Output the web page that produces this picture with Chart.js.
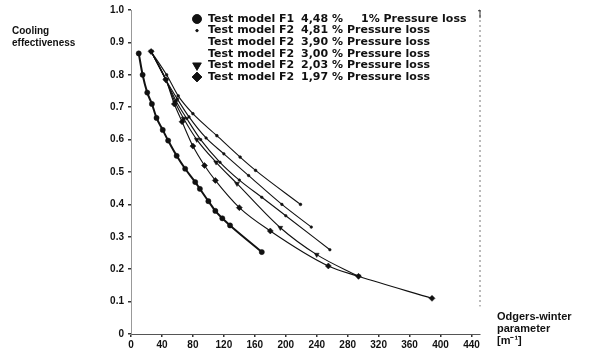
<!DOCTYPE html>
<html><head><meta charset="utf-8">
<script src="https://cdn.jsdelivr.net/npm/chart.js@4.4.0/dist/chart.umd.min.js"></script>
<style>html,body{margin:0;padding:0;background:#fff;}#wrap{width:593px;height:359px;position:relative}</style>
</head><body><div id="wrap"><canvas id="c" width="593" height="359"></canvas></div>
<script>
// ---- data ----
const xTickValues = [0,40,80,120,160,200,240,280,320,360,400,440];
const yTickValues = [0,0.1,0.2,0.3,0.4,0.5,0.6,0.7,0.8,0.9,1.0];

const f1X = [10,15,21,27,33,41,48,59,70,83,89,100,109,118,128,169];
const f1Y = [0.866,0.80,0.745,0.71,0.667,0.63,0.597,0.55,0.51,0.469,0.448,0.41,0.38,0.357,0.335,0.253];

const f2p481X = [26,46,61,80,111,141,161,219];
const f2p481Y = [0.872,0.80,0.735,0.68,0.612,0.546,0.505,0.40];

const f2p390X = [26,45,60,75,97,120,152,195,233];
const f2p390Y = [0.872,0.785,0.725,0.67,0.605,0.556,0.489,0.40,0.33];

const f2p300X = [26,45,58,72,90,115,140,169,200,257];
const f2p300Y = [0.872,0.785,0.72,0.665,0.60,0.53,0.475,0.422,0.365,0.26];

const f2p203X = [26,45,57,68,85,110,137,193,240,294];
const f2p203Y = [0.872,0.785,0.715,0.665,0.60,0.53,0.464,0.328,0.245,0.178];

const f2p197X = [26,45,56,66,80,95,109,140,180,255,294,389];
const f2p197Y = [0.872,0.785,0.71,0.655,0.58,0.52,0.474,0.39,0.318,0.21,0.178,0.11];

const legendModels = ['Test model F1','Test model F2','Test model F2','Test model F2','Test model F2','Test model F2'];
const legendPercents = ['4,48 %','4,81 %','3,90 %','3,00 %','2,03 %','1,97 %'];
const legendTails = ['1% Pressure loss','Pressure loss','Pressure loss','Pressure loss','Pressure loss','Pressure loss'];

const yTitle = ['Cooling','effectiveness'];
const xTitle = ['Odgers-winter','parameter','[m\u207B\u00B9]'];

// ---- build ----
const zip = (xs, ys) => xs.map((x, i) => ({x, y: ys[i]}));
const INK = '#111';
const series = [
  {xs:f1X, ys:f1Y, style:'circle', r:2.6, bw:2.0, legendR:4.5},
  {xs:f2p481X, ys:f2p481Y, style:'circle', r:1.4, bw:1.1, legendR:1.2},
  {xs:f2p390X, ys:f2p390Y, style:'circle', r:1.3, bw:1.1, legendR:0},
  {xs:f2p300X, ys:f2p300Y, style:'circle', r:1.3, bw:1.1, legendR:0},
  {xs:f2p203X, ys:f2p203Y, style:'triangle', r:2.8, bw:1.1, legendR:5, rot:180},
  {xs:f2p197X, ys:f2p197Y, style:'rectRot', r:3.0, bw:1.1, legendR:5}
];
const datasets = series.map((s, i) => ({
  label: legendModels[i] + ' ' + legendPercents[i] + ' ' + legendTails[i],
  data: zip(s.xs, s.ys),
  showLine: true,
  borderColor: INK,
  backgroundColor: INK,
  borderWidth: s.bw,
  pointStyle: s.style,
  pointRadius: s.r,
  pointRotation: s.rot || 0,
  pointBorderWidth: 0.5,
  cubicInterpolationMode: 'monotone'
}));

const FONT = '"Liberation Sans", Arial, sans-serif';
const LFONT = '"DejaVu Sans", sans-serif';

const decor = {
  id: 'decor',
  afterDraw(chart) {
    const ctx = chart.ctx;
    const xs = chart.scales.x, ys = chart.scales.y;
    ctx.save();
    // right dashed border
    const rx = xs.getPixelForValue(451);
    ctx.strokeStyle = '#777';
    ctx.lineWidth = 1;
    ctx.setLineDash([2, 3]);
    ctx.beginPath();
    ctx.moveTo(rx, ys.getPixelForValue(1.0));
    ctx.lineTo(rx, ys.getPixelForValue(0.085));
    ctx.stroke();
    ctx.setLineDash([]);
    ctx.strokeStyle = '#333';
    ctx.beginPath();
    ctx.moveTo(rx - 2, ys.getPixelForValue(1.0) + 1);
    ctx.lineTo(rx, ys.getPixelForValue(1.0));
    ctx.lineTo(rx, ys.getPixelForValue(0.975));
    ctx.stroke();

    // legend
    ctx.fillStyle = INK;
    ctx.font = 'bold 11px ' + LFONT;
    ctx.textBaseline = 'middle';
    ctx.textAlign = 'left';
    const y0 = 19, dy = 11.6;
    for (let i = 0; i < legendModels.length; i++) {
      const y = y0 + dy * i;
      const s = series[i];
      if (s.legendR > 0) {
        Chart.helpers.drawPoint(ctx, {pointStyle: s.style, radius: s.legendR, rotation: s.rot || 0, borderWidth: 0.5}, 197, y);
        ctx.fillStyle = INK; ctx.fill();
      }
      ctx.fillStyle = INK;
      ctx.fillText(legendModels[i], 208, y);
      ctx.fillText(legendPercents[i], 301, y);
      ctx.fillText(legendTails[i], i === 0 ? 361 : 347, y);
    }

    // axis titles
    ctx.font = 'bold 10px ' + FONT;
    ctx.fillText(yTitle[0], 12, 31);
    ctx.fillText(yTitle[1], 12, 43);
    ctx.font = 'bold 11px ' + FONT;
    ctx.fillText(xTitle[0], 497, 317);
    ctx.fillText(xTitle[1], 497, 329);
    ctx.fillText(xTitle[2], 497, 341);
    ctx.restore();
  }
};

new Chart(document.getElementById('c'), {
  type: 'scatter',
  data: { datasets },
  options: {
    responsive: false,
    animation: false,
    layout: { padding: { left: 0, right: 113, top: 9, bottom: 0 } },
    plugins: { legend: { display: false }, tooltip: { enabled: false } },
    scales: {
      x: {
        type: 'linear', min: 0, max: 451,
        afterFit(s) { s.height = 25; },
        afterBuildTicks(s) { s.ticks = xTickValues.map(v => ({value: v})); },
        ticks: { color: INK, font: { family: FONT, size: 10, weight: 'bold' }, padding: 2, maxRotation: 0, autoSkip: false },
        grid: { drawOnChartArea: false, tickLength: 3, color: '#333', lineWidth: 1.5 },
        border: { color: '#555', dash: [4, 3], width: 1 }
      },
      y: {
        type: 'linear', min: 0, max: 1,
        afterFit(s) { s.width = 131; },
        afterBuildTicks(s) { s.ticks = yTickValues.map(v => ({value: v})); },
        ticks: { color: INK, font: { family: FONT, size: 10, weight: 'bold' }, padding: 4,
          callback: v => v === 0 ? '0' : v.toFixed(1) },
        grid: { drawOnChartArea: false, tickLength: 3, color: '#333', lineWidth: 1.5 },
        border: { color: '#999', dash: [1, 2], width: 1 }
      }
    }
  },
  plugins: [decor]
});
</script></body></html>
